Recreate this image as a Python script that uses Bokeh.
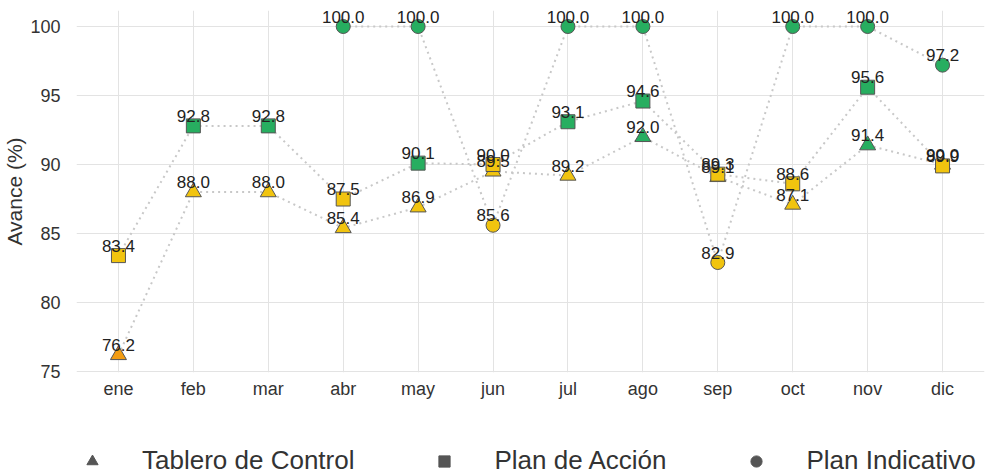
from bokeh.plotting import figure
from bokeh.layouts import column
from bokeh.models import FactorRange, Range1d, Legend, LegendItem, FixedTicker, ColumnDataSource
from bokeh.core.properties import value
from bokeh.embed import file_html
from bokeh.resources import INLINE

months = ["ene", "feb", "mar", "abr", "may", "jun", "jul", "ago", "sep", "oct", "nov", "dic"]
tablero = [76.2, 88.0, 88.0, 85.4, 86.9, 89.5, 89.2, 92.0, 89.1, 87.1, 91.4, 90.0]
plan_accion = [83.4, 92.8, 92.8, 87.5, 90.1, 90.0, 93.1, 94.6, 89.3, 88.6, 95.6, 89.9]
plan_indicativo = [None, None, None, 100.0, 100.0, 85.6, 100.0, 100.0, 82.9, 100.0, 100.0, 97.2]
series_names = ["Tablero de Control", "Plan de Acción", "Plan Indicativo"]
y_ticks = [75, 80, 85, 90, 95, 100]

FONT = "Liberation Sans"
GREEN, YELLOW, ORANGE = "#27ae60", "#f1c40f", "#f39c12"


def color_for(v):
    if v > 90.0:
        return GREEN
    if v >= 80.0:
        return YELLOW
    return ORANGE


p = figure(
    x_range=FactorRange(factors=months, range_padding=0.06, range_padding_units="absolute"),
    y_range=Range1d(74.93, 101.16),
    width=989, height=410,
    min_border_left=69, min_border_right=5, min_border_top=10, min_border_bottom=38,
    output_backend="svg", toolbar_location=None,
)
p.outline_line_color = None
p.background_fill_color = "white"
p.border_fill_color = "white"

for ax in (p.xaxis[0], p.yaxis[0]):
    ax.axis_line_color = None
    ax.major_tick_line_color = None
    ax.minor_tick_line_color = None
    ax.major_label_text_font = FONT
    ax.major_label_text_font_size = "18px"
    ax.major_label_text_color = "#333333"

p.yaxis.ticker = FixedTicker(ticks=y_ticks)
p.yaxis.major_label_standoff = 10
p.yaxis.axis_label = "Avance (%)"
p.yaxis.axis_label_text_font = FONT
p.yaxis.axis_label_text_font_size = "21px"
p.yaxis.axis_label_text_font_style = "normal"
p.yaxis.axis_label_text_color = "#333333"
p.yaxis.axis_label_standoff = 1
p.xaxis.major_label_standoff = 0

p.xgrid.grid_line_color = "#e3e3e3"
p.ygrid.grid_line_color = "#e3e3e3"
p.xgrid.grid_line_width = 1
p.ygrid.grid_line_width = 1

markers = ["triangle", "square", "circle"]
sizes = [16, 14, 14]
all_series = [tablero, plan_accion, plan_indicativo]

sources = []
for vals in all_series:
    xs = [m for m, v in zip(months, vals) if v is not None]
    ys = [v for v in vals if v is not None]
    sources.append(ColumnDataSource(dict(
        x=xs, y=ys,
        c=[color_for(v) for v in ys],
        t=["{:.1f}".format(v) for v in ys],
    )))

# dotted connecting lines
for src in sources:
    p.line(x="x", y="y", source=src, line_color="#c8c8c8", line_width=2, line_dash="2 4")

# markers
for src, mk, sz in zip(sources, markers, sizes):
    p.scatter(x="x", y="y", source=src, marker=mk, size=sz,
              fill_color="c", line_color="#555555", line_width=1)

# value labels
for src in sources:
    p.text(x="x", y="y", text="t", source=src, text_align="center",
           text_baseline="bottom", y_offset=-4,
           text_font=value(FONT), text_font_size="17px", text_color="#222222")

# legend in a separate strip below the chart
lg = figure(width=989, height=66, min_border=0, x_axis_type=None, y_axis_type=None,
            x_range=Range1d(0, 1), y_range=Range1d(0, 1),
            output_backend="svg", toolbar_location=None)
lg.outline_line_color = None
lg.xgrid.visible = False
lg.ygrid.visible = False

items = []
for name, mk in zip(series_names, markers):
    r = lg.scatter(x=[-5], y=[-5], marker=mk, size=12, fill_color="#555555", line_color="#555555")
    items.append(LegendItem(label=name, renderers=[r]))

legend = Legend(
    items=items, orientation="horizontal", location=(2, 0),
    glyph_width=28, glyph_height=28, label_height=28, label_standoff=36, spacing=76,
    padding=0, margin=0, border_line_color=None, background_fill_alpha=0,
    label_text_font=FONT, label_text_font_size="26px", label_text_color="#333333",
)
lg.add_layout(legend, "center")

open("out.html", "w").write(file_html(column(p, lg, spacing=0), INLINE))
